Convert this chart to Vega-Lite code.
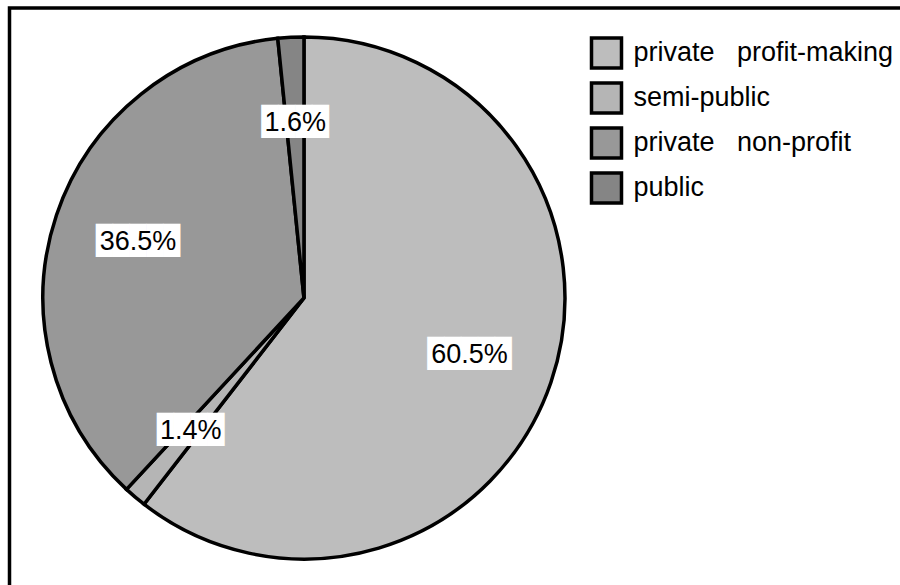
{
  "$schema": "https://vega.github.io/schema/vega-lite/v6.json",
  "width": 895,
  "height": 580,
  "padding": {"left": 9.5, "top": 8, "right": 0, "bottom": 0},
  "background": "white",
  "view": {"stroke": "black", "strokeWidth": 3.5, "fill": "white"},
  "config": {"view": {"stroke": "black", "strokeWidth": 3.5}},
  "data": {
    "values": [
      {"category": "private profit-making", "share": 60.5, "rank": 1, "label": "60.5%"},
      {"category": "semi-public", "share": 1.4, "rank": 2, "label": "1.4%"},
      {"category": "private non-profit", "share": 36.5, "rank": 3, "label": "36.5%"},
      {"category": "public", "share": 1.6, "rank": 4, "label": "1.6%"}
    ]
  },
  "encoding": {
    "theta": {"field": "share", "type": "quantitative", "stack": true},
    "order": {"field": "rank", "type": "quantitative"}
  },
  "layer": [
    {
      "mark": {"type": "arc", "outerRadius": 261, "stroke": "black", "strokeWidth": 3.5, "x": {"expr": "width*0.329"}},
      "encoding": {
        "color": {
          "field": "category",
          "type": "nominal",
          "scale": {
            "domain": ["private profit-making", "semi-public", "private non-profit", "public"],
            "range": ["#bdbdbd", "#b5b5b5", "#989898", "#858585"]
          },
          "legend": {
            "title": null,
            "orient": "none",
            "legendX": 580,
            "legendY": 28,
            "symbolType": "square",
            "symbolSize": 900,
            "symbolStrokeColor": "black",
            "symbolStrokeWidth": 3.5,
            "symbolOpacity": 1,
            "labelFont": "Liberation Sans",
            "labelFontSize": 27,
            "labelColor": "black",
            "labelOffset": 10,
            "rowPadding": 1,
            "labelLimit": 400,
            "labelExpr": "replace(datum.label, ' ', '\u00a0\u00a0\u00a0')"
          }
        }
      }
    },
    {
      "mark": {"type": "text", "radius": 175, "font": "DejaVu Sans Mono", "fontSize": 28, "color": "white", "baseline": "middle", "align": "center", "x": {"expr": "width*0.329"}},
      "encoding": {
        "text": {"condition": {"test": "datum.share > 10", "value": "█████"}, "value": "████"}
      }
    },
    {
      "mark": {"type": "text", "radius": 175, "font": "Liberation Sans", "fontSize": 27, "color": "black", "baseline": "middle", "align": "center", "x": {"expr": "width*0.329"}},
      "encoding": {
        "text": {"field": "label", "type": "nominal"}
      }
    }
  ]
}
